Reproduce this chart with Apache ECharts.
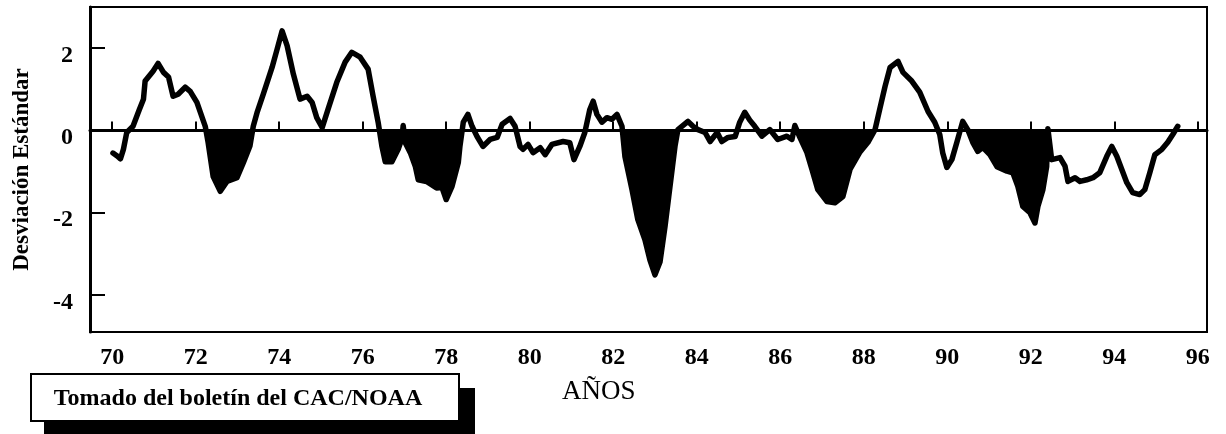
<!DOCTYPE html>
<html><head><meta charset="utf-8">
<script src="https://cdn.jsdelivr.net/npm/echarts@6/dist/echarts.min.js"></script>
<style>html,body{margin:0;padding:0;background:#fff}#c{width:1226px;height:434px}</style>
</head><body><div id="c"></div>
<script>
const years = [70.02,70.12,70.2,70.27,70.35,70.5,70.65,70.75,70.79,70.98,71.1,71.23,71.35,71.46,71.58,71.75,71.87,72.03,72.23,72.3,72.42,72.59,72.75,72.99,73.14,73.3,73.38,73.47,73.62,73.83,73.95,74.07,74.19,74.34,74.5,74.67,74.79,74.9,75.03,75.17,75.38,75.58,75.74,75.94,76.13,76.25,76.37,76.46,76.54,76.7,76.85,76.94,76.97,77.02,77.14,77.26,77.33,77.53,77.77,77.9,78.0,78.14,78.29,78.33,78.41,78.52,78.62,78.74,78.88,79.05,79.22,79.34,79.53,79.65,79.77,79.84,79.96,80.08,80.25,80.37,80.53,80.8,80.96,81.06,81.2,81.32,81.44,81.52,81.61,81.73,81.85,81.97,82.09,82.21,82.28,82.45,82.59,82.76,82.88,83.0,83.12,83.24,83.36,83.48,83.55,83.79,83.91,84.03,84.2,84.32,84.49,84.6,84.75,84.92,85.03,85.15,85.27,85.39,85.56,85.75,85.94,86.16,86.28,86.35,86.47,86.64,86.76,86.9,87.12,87.31,87.5,87.67,87.9,88.1,88.27,88.39,88.51,88.63,88.82,88.94,89.15,89.34,89.54,89.7,89.82,89.89,89.99,90.11,90.23,90.37,90.49,90.61,90.73,90.85,91.02,91.19,91.43,91.57,91.69,91.81,91.98,92.1,92.17,92.29,92.38,92.41,92.5,92.7,92.82,92.89,93.06,93.18,93.34,93.49,93.65,93.82,93.94,94.06,94.18,94.3,94.44,94.61,94.73,94.85,94.97,95.14,95.28,95.4,95.52];
const values = [-0.55,-0.62,-0.69,-0.46,-0.05,0.1,0.5,0.76,1.2,1.44,1.63,1.41,1.3,0.83,0.88,1.05,0.95,0.68,0.1,-0.3,-1.12,-1.48,-1.24,-1.15,-0.79,-0.38,0.1,0.43,0.88,1.53,1.97,2.42,2.06,1.37,0.76,0.83,0.68,0.31,0.07,0.51,1.17,1.66,1.9,1.78,1.49,0.83,0.2,-0.38,-0.76,-0.76,-0.46,-0.2,0.12,-0.3,-0.54,-0.87,-1.2,-1.24,-1.4,-1.39,-1.68,-1.36,-0.78,-0.38,0.2,0.39,0.1,-0.15,-0.39,-0.22,-0.17,0.15,0.29,0.1,-0.39,-0.46,-0.34,-0.54,-0.42,-0.59,-0.34,-0.27,-0.3,-0.71,-0.39,-0.05,0.51,0.71,0.39,0.2,0.31,0.27,0.39,0.1,-0.63,-1.44,-2.17,-2.66,-3.15,-3.51,-3.2,-2.34,-1.36,-0.38,0.02,0.22,0.1,0.02,-0.05,-0.27,-0.05,-0.27,-0.17,-0.15,0.2,0.44,0.25,0.1,-0.14,0.02,-0.22,-0.14,-0.22,0.12,-0.17,-0.54,-0.95,-1.44,-1.73,-1.76,-1.61,-0.95,-0.54,-0.29,0.02,0.55,1.07,1.53,1.68,1.41,1.2,0.93,0.46,0.2,-0.1,-0.54,-0.9,-0.71,-0.29,0.22,0.02,-0.29,-0.51,-0.41,-0.59,-0.88,-0.99,-1.03,-1.36,-1.85,-2.0,-2.25,-1.85,-1.44,-0.88,0.04,-0.71,-0.66,-0.87,-1.24,-1.15,-1.24,-1.2,-1.15,-1.03,-0.63,-0.39,-0.63,-0.95,-1.27,-1.51,-1.56,-1.44,-1.03,-0.59,-0.46,-0.29,-0.1,0.1];
const xTicks = [70,72,74,76,78,80,82,84,86,88,90,92,94,96];
const yTicks = [-4,-2,0,2];
const episodes = [[72.2,73.4],[76.35,78.42],[82.2,83.56],[86.35,88.28],[90.48,92.42]];
const yName = 'Desviación Estándar';
const xName = 'AÑOS';
const sourceNote = 'Tomado del boletín del CAC/NOAA';

const FONT = '"Liberation Serif", "Times New Roman", serif';
const lineData = years.map((y, i) => [y, values[i]]);
const fillSeries = episodes.map(([a, b]) => ({
  type: 'line', silent: true, symbol: 'none', z: 1,
  data: lineData.filter(p => p[0] >= a && p[0] <= b).map(p => [p[0], Math.min(p[1], 0)]),
  lineStyle: { width: 0 },
  areaStyle: { color: '#000', opacity: 1, origin: 0 }
}));

const chart = echarts.init(document.getElementById('c'), null, { renderer: 'canvas' });
chart.setOption({
  animation: false,
  backgroundColor: '#fff',
  grid: { left: 90, right: 19, top: 7, bottom: 102, show: true, borderColor: '#000', borderWidth: 2, backgroundColor: 'transparent' },
  xAxis: {
    type: 'value', min: 69.47, max: 96.22,
    axisLine: { show: true, lineStyle: { color: '#000', width: 3 } },
    axisTick: { show: true, inside: true, length: 9, customValues: xTicks, lineStyle: { color: '#000', width: 2 } },
    axisLabel: { customValues: xTicks, margin: 14, color: '#000', fontFamily: FONT, fontWeight: 'bold', fontSize: 24 },
    splitLine: { show: false }
  },
  yAxis: {
    type: 'value', min: -4.9, max: 3,
    axisLine: { show: true, lineStyle: { color: '#000', width: 3 } },
    axisTick: { show: true, inside: true, length: 15, customValues: yTicks, lineStyle: { color: '#000', width: 2 } },
    axisLabel: { customValues: yTicks, margin: 17, color: '#000', fontFamily: FONT, fontWeight: 'bold', fontSize: 24, verticalAlign: 'top', lineHeight: 15 },
    splitLine: { show: false },
    name: yName, nameLocation: 'middle', nameGap: 56,
    nameTextStyle: { color: '#000', fontFamily: FONT, fontWeight: 'bold', fontSize: 23 }
  },
  series: [
    ...fillSeries,
    {
      type: 'line', data: lineData, symbol: 'none', z: 3,
      lineStyle: { color: '#000', width: 5.5, join: 'round', cap: 'round' },
      markLine: {
        silent: true, symbol: 'none', label: { show: false },
        lineStyle: { color: '#000', width: 2, type: 'solid' },
        data: [{ yAxis: 0 }]
      }
    }
  ],
  graphic: [
    { type: 'text', left: 562, top: 378, style: { text: xName, font: 'normal 27px ' + FONT, fill: '#000' } },
    { type: 'rect', shape: { x: 44, y: 388, width: 431, height: 46 }, style: { fill: '#000' } },
    { type: 'rect', shape: { x: 31, y: 374, width: 428, height: 47 }, style: { fill: '#fff', stroke: '#000', lineWidth: 2 } },
    { type: 'text', x: 238, y: 399, style: { text: sourceNote, font: 'bold 24px ' + FONT, fill: '#000', textAlign: 'center', textVerticalAlign: 'middle' } }
  ]
});
</script></body></html>
